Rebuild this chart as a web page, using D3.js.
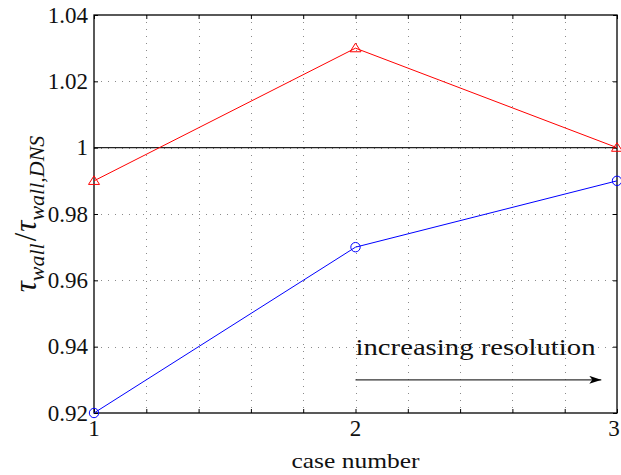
<!DOCTYPE html>
<html>
<head>
<meta charset="utf-8">
<script src="https://cdn.jsdelivr.net/npm/d3@7"></script>
</head>
<body style="margin:0">
<svg id="chart" width="621" height="475"></svg>
<script>
// Wall shear stress relative to DNS for each case
const caseNumbers = [1, 2, 3];
const seriesTriangle = [0.99, 1.03, 1.00];
const seriesCircle = [0.92, 0.97, 0.99];
const xTickLabels = [1, 2, 3];
const yTickLabels = [0.92, 0.94, 0.96, 0.98, 1.00, 1.02, 1.04];
const referenceLevel = 1.0;
const arrowFrom = { x: 2.0, y: 0.93 };
const arrowTo = { x: 2.94, y: 0.93 };
const noteAt = { x: 2.0, y: 0.9375 };

const W = 621, H = 475;
const m = { left: 94, right: 4, top: 15, bottom: 62 };
const iw = W - m.left - m.right, ih = H - m.top - m.bottom;

const svg = d3.select("#chart");
const g = svg.append("g").attr("transform", `translate(${m.left},${m.top})`);

const x = d3.scaleLinear().domain([1, 3]).range([0, iw]);
const y = d3.scaleLinear().domain([0.92, 1.04]).range([ih, 0]);

const xMinor = d3.range(0, 11).map(i => 1 + i * 0.2);

// dotted grid
const grid = g.append("g").attr("stroke", "#8a8a8a").attr("stroke-width", 1)
  .attr("stroke-dasharray", "1,6").attr("shape-rendering", "crispEdges");
grid.selectAll("line.v").data(xMinor.slice(1, -1)).join("line")
  .attr("x1", d => Math.round(x(d)) + 0.5).attr("x2", d => Math.round(x(d)) + 0.5)
  .attr("y1", 0).attr("y2", ih);
grid.selectAll("line.h").data(yTickLabels.slice(1, -1)).join("line")
  .attr("y1", d => Math.round(y(d)) + 0.5).attr("y2", d => Math.round(y(d)) + 0.5)
  .attr("x1", 0).attr("x2", iw);

// reference line at unity
g.append("line")
  .attr("x1", 0).attr("x2", iw)
  .attr("y1", y(referenceLevel)).attr("y2", y(referenceLevel))
  .attr("stroke", "#222").attr("stroke-width", 1.3);

// axes with inward ticks on all four sides
const tickLen = 4;
const axB = d3.axisBottom(x).tickValues(xMinor).tickSize(-tickLen).tickFormat("");
const axT = d3.axisTop(x).tickValues(xMinor).tickSize(-tickLen).tickFormat("");
const axL = d3.axisLeft(y).tickValues(yTickLabels).tickSize(-tickLen).tickFormat("");
const axR = d3.axisRight(y).tickValues(yTickLabels).tickSize(-tickLen).tickFormat("");
function styleAxis(sel) {
  sel.select(".domain").remove();
  sel.selectAll(".tick line").attr("stroke", "#000").attr("stroke-width", 1);
}
g.append("g").attr("transform", `translate(0,${ih})`).call(axB).call(styleAxis);
g.append("g").call(axT).call(styleAxis);
g.append("g").call(axL).call(styleAxis);
g.append("g").attr("transform", `translate(${iw},0)`).call(axR).call(styleAxis);

// frame
g.append("rect").attr("x", 0).attr("y", 0).attr("width", iw).attr("height", ih)
  .attr("fill", "none").attr("stroke", "#000").attr("stroke-width", 1.3);

// text layer (browser default serif face)
const labels = svg.append("g");

labels.append("g").attr("transform", `translate(${m.left},${m.top})`)
  .selectAll("text").data(xTickLabels).join("text")
  .attr("x", d => x(d) - (d === 3 ? 3 : 0)).attr("y", ih + 23)
  .attr("text-anchor", "middle").attr("font-size", 23).attr("fill", "#111")
  .text(d => d3.format("d")(d));
labels.append("g").attr("transform", `translate(${m.left},${m.top})`)
  .selectAll("text").data(yTickLabels).join("text")
  .attr("x", -6).attr("y", d => y(d) + 7.5)
  .attr("text-anchor", "end").attr("font-size", 23).attr("fill", "#111")
  .text(d => d === 1 ? "1" : d3.format(".2f")(d));

// axis titles
labels.append("text")
  .attr("x", m.left + iw / 2).attr("y", 468)
  .attr("text-anchor", "middle").attr("font-size", 21).attr("fill", "#111")
  .attr("textLength", 128).attr("lengthAdjust", "spacingAndGlyphs")
  .text("case number");

const yl = labels.append("text")
  .attr("transform", "translate(36,214) rotate(-90)")
  .attr("text-anchor", "middle").attr("font-style", "italic").attr("font-size", 31)
  .attr("fill", "#111");
yl.append("tspan").text("τ");
yl.append("tspan").attr("font-size", 22).attr("dy", 8).text("wall");
yl.append("tspan").attr("dy", -8).attr("font-style", "normal").attr("dx", 2).text("/");
yl.append("tspan").attr("dx", 1).text("τ");
yl.append("tspan").attr("font-size", 22).attr("dy", 8).text("wall,DNS");

// series
const line = d3.line().x((d, i) => x(caseNumbers[i])).y(d => y(d));
g.append("path").datum(seriesTriangle).attr("d", line)
  .attr("fill", "none").attr("stroke", "#ff0000").attr("stroke-width", 1);
g.append("path").datum(seriesCircle).attr("d", line)
  .attr("fill", "none").attr("stroke", "#0000ff").attr("stroke-width", 1);

const triPath = "M0,-5 L5.5,3.6 L-5.5,3.6 Z";
g.append("g").selectAll("path").data(seriesTriangle).join("path")
  .attr("transform", (d, i) => `translate(${x(caseNumbers[i])},${y(d)})`)
  .attr("d", triPath).attr("fill", "none").attr("stroke", "#ff0000").attr("stroke-width", 1);
g.append("g").selectAll("circle").data(seriesCircle).join("circle")
  .attr("cx", (d, i) => x(caseNumbers[i])).attr("cy", d => y(d)).attr("r", 4.7)
  .attr("fill", "none").attr("stroke", "#0000ff").attr("stroke-width", 1);

// annotation arrow
svg.append("defs").append("marker")
  .attr("id", "head").attr("viewBox", "0 0 12 8").attr("refX", 12).attr("refY", 4)
  .attr("markerWidth", 12).attr("markerHeight", 8).attr("markerUnits", "userSpaceOnUse")
  .attr("orient", "auto")
  .append("path").attr("d", "M0,0 L12,4 L0,8 L3,4 Z").attr("fill", "#000");
g.append("line")
  .attr("x1", x(arrowFrom.x)).attr("y1", y(arrowFrom.y))
  .attr("x2", x(arrowTo.x)).attr("y2", y(arrowTo.y))
  .attr("stroke", "#333").attr("stroke-width", 1.2).attr("marker-end", "url(#head)");
labels.append("text")
  .attr("x", m.left + x(noteAt.x)).attr("y", m.top + y(noteAt.y))
  .attr("font-size", 23).attr("fill", "#111")
  .attr("textLength", 240).attr("lengthAdjust", "spacingAndGlyphs")
  .text("increasing resolution");
</script>
</body>
</html>
